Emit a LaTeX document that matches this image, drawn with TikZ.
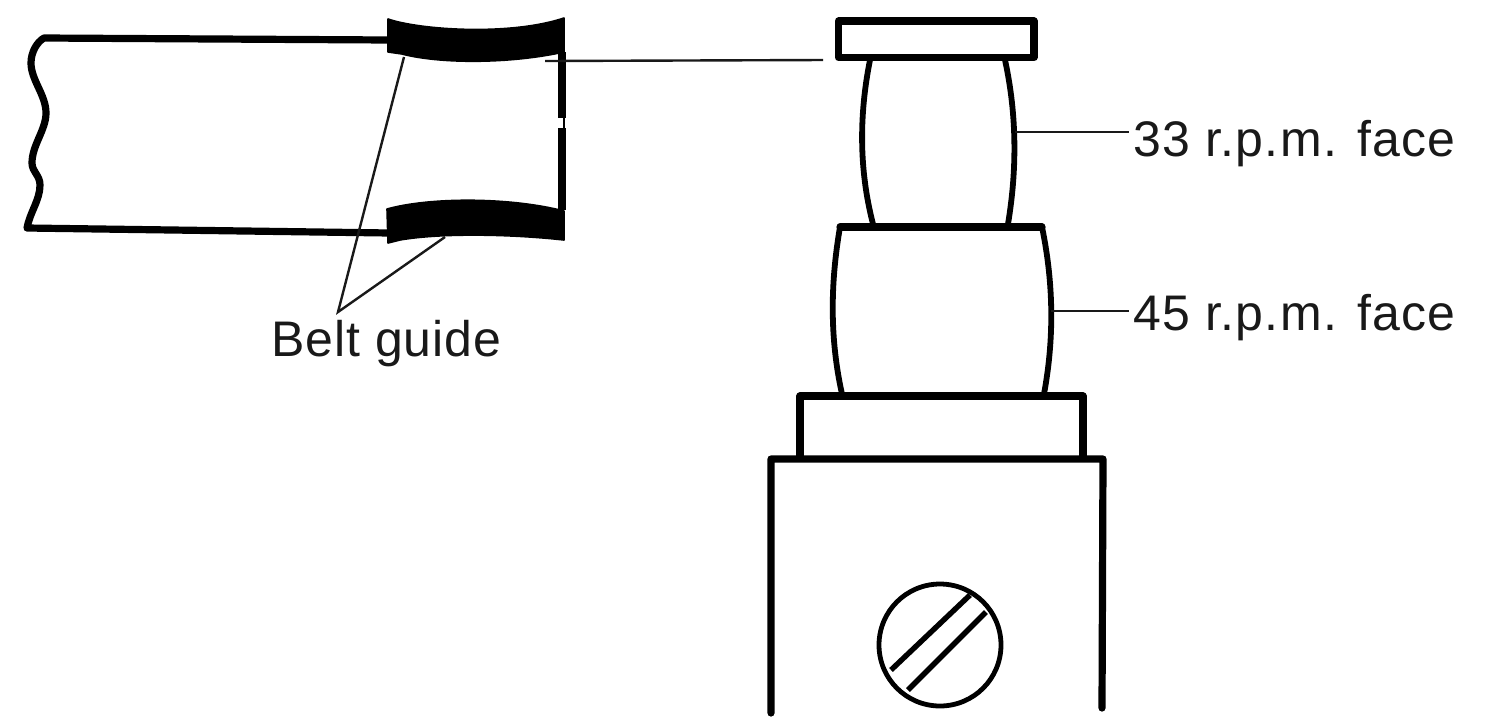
\documentclass[tikz,border=0pt]{standalone}
\usepackage{fontspec}
\setmainfont{Liberation Sans}[LetterSpace=2.6]
\begin{document}
\begin{tikzpicture}[x=0.5pt,y=-0.5pt,
  heavy/.style={draw=black,line width=3.6pt,line cap=round,line join=round},
  medium/.style={draw=black,line width=2.9pt,line cap=round},
  leader/.style={draw=black!90,line width=1.2pt},
  guide/.style={fill=black,draw=black,line width=0.8pt,line join=round},
  lbl/.style={anchor=base west,inner sep=0pt,text=black!90,font=\fontsize{25}{30}\selectfont}]
\useasboundingbox (0,0) rectangle (1494,725);
\fill[white] (0,0) rectangle (1494,725);
% belt
\draw[heavy] (390,40) -- (44,38) .. controls (37,42) and (31,52) .. (31,63)
  .. controls (31,80) and (46,95) .. (46,113)
  .. controls (46,130) and (32,145) .. (32,163)
  .. controls (32,172) and (40,175) .. (40,185)
  .. controls (40,200) and (30,212) .. (27,228) -- (390,233);
\draw[guide] (388,19) .. controls (420,30) and (510,36) .. (564,18) -- (564,52)
  .. controls (510,64) and (440,64) .. (402,54) -- (388,52) -- cycle;
\draw[guide] (387,209) .. controls (430,197) and (510,197) .. (564,211) -- (564,240)
  .. controls (510,234) and (440,233) .. (400,240) -- (388,243) -- cycle;
\draw[heavy,line cap=butt] (562,52) -- (562,118);
\draw[heavy,line cap=butt] (562,128) -- (562,210);
\draw[black,line width=1pt] (564,118) -- (564,128);
% belt guide label
\node[lbl] (beltlabel) at (271,356) {\addfontfeature{LetterSpace=1.8}Belt guide};
\coordinate (guideA) at (404,57);
\coordinate (guideB) at (445,237);
\coordinate (guideTip) at (338,312);
\draw[leader] (guideA) -- (guideTip) -- (guideB);
% pulley
\draw[heavy] (838.5,21) rectangle (1034,57.5);
\draw[medium] (870,60) .. controls (859,115) and (859,170) .. (873,224);
\draw[medium] (1005,60) .. controls (1017,115) and (1017,170) .. (1008,224);
\draw[heavy] (840,227) -- (1042,227);
\draw[medium] (840,227) .. controls (830,285) and (830,340) .. (842,394);
\draw[medium] (1042,227) .. controls (1054,285) and (1054,340) .. (1044,394);
\draw[heavy] (800,457) -- (800,396) -- (1083,396) -- (1083,457);
\draw[heavy] (771,713) -- (771,459) -- (1103,459) -- (1102,708);
% screw
\node[draw=black,line width=2.4pt,circle,minimum size=61pt,inner sep=0pt] (screw) at (940,645) {};
\coordinate (slotA) at (970,595);
\coordinate (slotB) at (891,670);
\coordinate (slotC) at (986,612);
\coordinate (slotD) at (908,690);
\draw[black,line width=2.7pt] (slotA) -- (slotB);
\draw[black,line width=2.7pt] (slotC) -- (slotD);
% labels
\node[lbl] (l33) at (1133,156) {33 r.p.m. face};
\node[lbl] (l45) at (1133,330) {45 r.p.m. face};
\coordinate (face33) at (1015,132);
\coordinate (face45) at (1051,311);
\coordinate (beltEdge) at (545,61);
\coordinate (capEdge) at (823,60);
\draw[leader] (face33) -- (1129,132);
\draw[leader] (face45) -- (1129,311);
\draw[leader] (beltEdge) -- (capEdge);
\end{tikzpicture}
\end{document}
